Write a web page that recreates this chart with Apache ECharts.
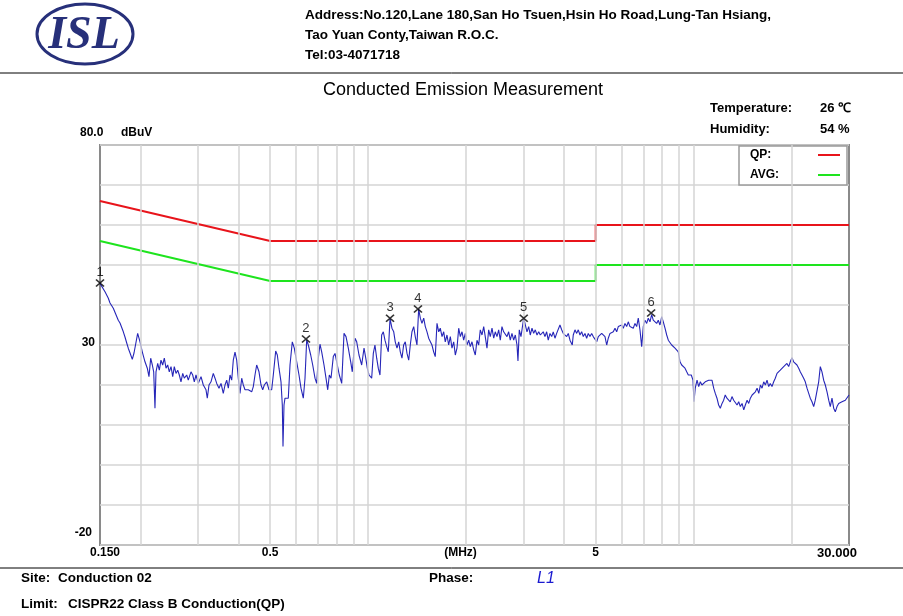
<!DOCTYPE html>
<html><head><meta charset="utf-8">
<script src="https://cdn.jsdelivr.net/npm/echarts@6/dist/echarts.min.js"></script>
<style>html,body{margin:0;padding:0;background:#fff}#c{width:903px;height:616px}</style>
</head><body><div id="c"></div>
<script>
// ---- data (frequency in MHz, level in dBuV) ----
const qpFreq = [0.15, 0.5, 5, 5, 30];
const qpLimit = [66, 56, 56, 60, 60];
const avgFreq = [0.15, 0.5, 5, 5, 30];
const avgLimit = [56, 46, 46, 50, 50];

const markerLabels = ['1', '2', '3', '4', '5', '6'];
const markerFreq = [0.15, 0.644, 1.167, 1.422, 3.005, 7.40];
const markerLevel = [45.5, 31.5, 36.7, 39.0, 36.7, 38.0];

const xGridFreq = [0.2, 0.3, 0.4, 0.5, 0.6, 0.7, 0.8, 0.9, 1, 2, 3, 4, 5, 6, 7, 8, 9, 10, 20];
const xTickValues = [0.15, 0.5, 5, 30];
const xTickLabels = ['0.150', '0.5', '5', '30.000'];
const xUnitLabel = '(MHz)';
const yTickValues = [80, 30, -20];
const yTickLabels = ['80.0', '30', '-20'];
const yUnitLabel = 'dBuV';

const l1Trace = [
[0.150,45.4],[0.1518,45.0],[0.1554,43.3],[0.1591,41.7],[0.1610,40.5],[0.1629,40.8],[0.1648,39.2],[0.1668,39.6],
[0.1707,36.2],[0.1728,35.5],[0.1749,35.0],[0.1769,33.3],[0.1790,32.0],[0.1812,30.5],[0.1832,29.2],[0.1855,28.0],
[0.1885,26.4],[0.1908,28.0],[0.1931,27.5],[0.1958,32.9],[0.1991,30.8],[0.2023,28.3],[0.2062,25.8],[0.2096,24.2],
[0.2121,22.1],[0.2147,26.7],[0.2172,25.0],[0.2193,23.3],[0.2213,14.2],[0.2229,23.3],[0.2256,25.4],[0.2282,23.7],
[0.2309,26.2],[0.2337,25.0],[0.2364,26.7],[0.2393,24.2],[0.2421,25.0],[0.2449,23.3],[0.2479,24.6],[0.2509,22.1],
[0.2537,24.6],[0.2568,22.9],[0.2599,23.7],[0.2629,22.5],[0.2660,20.8],[0.2693,22.9],[0.2723,21.7],[0.2770,22.5],
[0.2801,21.2],[0.2855,23.3],[0.2890,22.5],[0.2923,20.8],[0.2958,22.5],[0.3007,20.4],[0.3065,22.1],[0.3115,20.0],
[0.3175,18.8],[0.3204,16.7],[0.3243,20.0],[0.3289,20.8],[0.3343,22.9],[0.3384,21.7],[0.3425,20.4],[0.3481,19.2],
[0.3531,20.4],[0.3588,17.9],[0.3632,20.0],[0.3676,21.2],[0.3718,19.2],[0.3763,22.5],[0.3808,21.2],[0.3851,26.2],
[0.3898,28.2],[0.3945,26.2],[0.3990,21.7],[0.4038,17.9],[0.4087,21.7],[0.4134,20.0],[0.4184,18.8],
[0.4282,18.8],[0.4387,18.3],[0.4437,19.6],[0.4490,22.5],[0.4544,25.0],[0.4619,23.3],[0.4685,20.0],[0.4742,18.8],
[0.4796,20.0],[0.4878,20.8],[0.4958,18.8],[0.5053,18.8],[0.5111,22.5],[0.5198,28.5],[0.5258,27.5],[0.5321,24.2],
[0.5397,20.8],[0.5447,15.0],[0.5474,4.6],[0.5513,15.0],[0.5552,16.7],[0.5619,17.1],[0.5683,16.7],[0.5752,25.0],
[0.5846,30.8],[0.5929,29.2],[0.6031,25.8],[0.6130,22.5],[0.6217,19.2],[0.6319,16.7],[0.6396,21.7],[0.6473,31.3],
[0.6547,30.0],[0.6659,27.5],[0.6754,25.0],[0.6864,21.7],[0.6947,20.4],[0.7027,26.7],[0.7111,30.2],[0.7197,28.3],
[0.7316,25.0],[0.7420,21.7],[0.7510,18.8],[0.7596,22.5],[0.7687,21.7],[0.7813,27.1],[0.7908,27.9],[0.8037,25.0],
[0.8152,22.5],[0.8292,20.4],[0.8428,32.9],[0.8548,32.1],[0.8688,29.2],[0.8837,25.8],[0.8937,23.3],[0.911,31.7],
[0.922,30.8],[0.937,27.5],[0.955,25.0],[0.971,29.2],[0.983,26.7],[0.994,24.2],[1.006,22.5],[1.025,21.7],
[1.037,27.9],[1.049,30.0],[1.062,26.7],[1.074,24.2],[1.087,22.5],[1.100,32.5],[1.113,33.3],[1.126,31.2],
[1.140,29.6],[1.153,28.3],[1.167,36.6],
[1.183,34.2],[1.198,33.3],[1.211,30.8],[1.226,29.2],[1.241,30.8],[1.255,28.3],[1.270,26.7],[1.285,30.0],
[1.300,30.8],[1.316,27.9],[1.332,26.2],[1.347,30.0],[1.363,33.3],[1.380,34.6],[1.395,32.1],[1.412,30.0],
[1.429,39.0],[1.446,36.7],[1.463,35.4],[1.481,36.7],[1.498,34.6],[1.516,33.3],[1.534,31.7],[1.552,32.1],
[1.570,30.0],[1.589,28.3],[1.607,27.1],[1.627,35.4],[1.647,33.3],[1.665,34.2],[1.686,32.1],[1.706,33.3],
[1.725,30.8],[1.746,32.5],[1.767,30.0],[1.788,32.1],[1.809,29.2],[1.831,30.8],[1.852,27.5],[1.874,29.2],
[1.897,34.2],[1.919,32.1],[1.942,33.3],[1.965,31.2],[1.988,32.9],[2.011,30.0],[2.036,31.2],[2.059,29.6],
[2.084,30.8],[2.109,28.8],[2.133,27.5],[2.159,31.2],[2.185,30.0],[2.210,33.8],[2.237,32.5],[2.264,34.6],
[2.289,32.1],[2.317,29.2],[2.345,33.8],[2.372,32.1],[2.401,34.2],[2.430,31.7],[2.457,33.3],[2.487,32.1],
[2.517,33.8],[2.546,31.2],[2.576,34.6],[2.607,33.3],[2.637,33.8],[2.669,32.1],[2.701,33.3],[2.732,31.2],
[2.765,32.9],[2.799,31.2],[2.831,32.5],[2.865,30.0],[2.885,26.0],[2.912,33.8],[2.947,32.1],[2.983,35.0],
[3.005,36.7],[3.038,36.2],[3.075,33.3],[3.112,34.6],[3.147,32.5],[3.186,34.2],[3.224,32.9],[3.261,33.8],
[3.301,32.5],[3.341,33.3],[3.379,32.5],
[3.412,32.5],[3.450,33.3],[3.492,32.1],[3.534,33.3],[3.574,31.2],[3.618,32.9],[3.662,32.1],[3.703,33.3],
[3.748,31.7],[3.793,32.9],[3.836,33.3],[3.883,35.0],[3.930,33.8],[3.974,32.9],[4.023,33.3],[4.071,32.1],
[4.118,32.9],[4.168,31.2],[4.236,30.0],[4.266,32.5],[4.318,33.8],[4.370,32.9],[4.420,33.8],[4.473,32.5],
[4.527,33.3],[4.579,32.1],[4.634,32.9],[4.690,31.7],[4.744,32.9],[4.801,32.1],[4.859,32.9],[4.914,32.1],
[4.974,32.5],[5.035,30.8],[5.093,32.1],[5.155,32.5],[5.216,32.9],[5.275,33.3],[5.339,32.1],[5.404,30.0],
[5.465,31.7],[5.532,32.9],[5.598,32.5],[5.662,33.3],[5.731,34.2],[5.800,33.3],[5.866,34.6],[5.937,34.2],
[6.009,35.0],[6.077,34.2],[6.150,35.4],[6.224,34.6],[6.295,35.8],[6.371,34.6],[6.448,35.0],[6.522,34.2],
[6.601,35.4],[6.681,34.6],[6.757,36.7],[6.838,33.8],[6.921,29.6],[7.000,34.6],[7.085,36.2],[7.170,35.4],
[7.252,36.7],[7.340,35.8],[7.428,37.6],[7.513,36.2],[7.604,36.7],[7.695,35.4],[7.783,36.2],[7.878,35.0],
[7.975,37.1],[8.065,35.8],[8.163,34.2],[8.262,32.5],[8.356,31.2],[8.457,30.8],[8.559,30.0],[8.656,30.4],
[8.761,29.2],[8.868,29.6],[8.968,28.3],[9.077,25.8],[9.186,25.0],[9.291,25.4],[9.403,24.2],[9.518,23.3],
[9.626,22.5],[9.742,22.1],
[9.83,22.5],[9.95,21.2],[10.02,15.8],[10.11,19.2],[10.24,21.2],[10.36,19.6],[10.48,20.8],[10.60,20.0],
[10.73,20.4],[10.85,20.8],[10.99,20.4],[11.12,21.2],[11.25,20.8],[11.38,21.2],[11.52,19.2],[11.65,17.9],
[11.79,16.7],[11.93,15.0],[12.07,14.2],[12.22,15.4],[12.36,16.2],[12.50,17.5],[12.65,16.7],[12.80,17.1],
[12.95,15.8],[13.11,17.1],[13.27,16.2],[13.42,15.8],[13.59,15.0],[13.75,15.8],[13.91,14.6],[14.08,15.4],
[14.25,13.8],[14.41,15.0],[14.59,16.2],[14.76,15.4],[14.93,16.7],[15.12,17.5],[15.30,17.1],[15.47,18.3],
[15.66,19.2],[15.85,17.9],[16.03,20.0],[16.22,19.2],[16.41,20.8],[16.60,20.0],[16.80,21.2],[17.00,19.6],
[17.19,20.4],[17.40,19.6],[17.61,20.8],[17.81,21.7],[18.03,22.9],[18.24,22.5],[18.45,23.7],[18.67,23.3],
[18.90,24.6],[19.11,24.2],[19.34,25.4],[19.58,24.6],[19.80,25.8],[20.04,26.8],[20.28,25.8],[20.52,26.2],
[20.76,25.0],[21.02,24.2],[21.25,23.3],[21.51,22.5],[21.77,21.7],[22.02,20.8],[22.29,19.2],[22.56,17.9],
[22.81,16.7],[23.09,15.8],[23.37,14.6],[23.63,16.2],[23.92,16.7],[24.21,20.8],[24.49,24.6],[24.78,23.3],
[25.08,21.2],[25.37,20.0],[25.68,18.3],[25.99,16.2],[26.28,14.6],[26.60,16.7],[26.92,14.2],[27.23,13.3],
[27.56,14.6],[27.89,15.4],[28.21,15.0],[28.55,15.8],[28.90,15.4],[29.23,16.2],[29.58,16.7],[30.00,17.5]
];

// ---- header / footer texts ----
const addressLines = [
  'Address:No.120,Lane 180,San Ho Tsuen,Hsin Ho Road,Lung-Tan Hsiang,',
  'Tao Yuan Conty,Taiwan R.O.C.',
  'Tel:03-4071718'
];
const titleText = 'Conducted Emission Measurement';
const envLabels = ['Temperature:', 'Humidity:'];
const envValues = ['26 \u2103', '54 %'];

// ---- chart ----
const FONT = '"Liberation Sans", Arial, sans-serif';
const NAVY = '#27307a';
const chart = echarts.init(document.getElementById('c'), null, {renderer: 'canvas'});

function txt(x, y, text, o) {
  o = o || {};
  return {type: 'text', z: 10, style: {
    x: x, y: y, text: text,
    fontFamily: o.family || FONT, fontSize: o.size || 12,
    fontWeight: o.weight || 'bold', fontStyle: o.style || 'normal',
    fill: o.color || '#000', align: o.align || 'left', verticalAlign: 'middle'
  }};
}

const graphics = [
  {type: 'ellipse', z: 10, shape: {cx: 85, cy: 34, rx: 48, ry: 30}, style: {fill: 'none', stroke: NAVY, lineWidth: 3}},
  txt(84, 36, 'ISL', {family: '"Liberation Serif", "DejaVu Serif", serif', size: 46, weight: 'bold', style: 'italic', color: NAVY, align: 'center'}),
  txt(305, 15, addressLines[0], {size: 13.5}),
  txt(305, 35, addressLines[1], {size: 13.5}),
  txt(305, 55, addressLines[2], {size: 13.5}),
  {type: 'line', z: 10, shape: {x1: 0, y1: 73, x2: 903, y2: 73}, style: {stroke: '#000', lineWidth: 1}},
  txt(463, 90, titleText, {size: 18, weight: 'normal', align: 'center'}),
  txt(710, 108, envLabels[0], {size: 13}), txt(820, 108, envValues[0], {size: 13}),
  txt(710, 129, envLabels[1], {size: 13}), txt(820, 129, envValues[1], {size: 13}),
  {type: 'line', z: 10, shape: {x1: 0, y1: 568, x2: 903, y2: 568}, style: {stroke: '#000', lineWidth: 1}},
  txt(21, 578, 'Site:', {size: 13.5}), txt(58, 578, 'Conduction 02', {size: 13.5}),
  txt(429, 578, 'Phase:', {size: 13.5}),
  txt(537, 579, 'L1', {size: 16, weight: 'normal', style: 'italic', color: '#1a1ad0'}),
  txt(21, 604, 'Limit:', {size: 13.5}), txt(68, 604, 'CISPR22 Class B Conduction(QP)', {size: 13.5})
];

const option = {
  backgroundColor: '#fff',
  animation: false,
  grid: {left: 100, right: 54, top: 145, bottom: 71, show: true, borderColor: '#8a8a8a', borderWidth: 2,
         backgroundColor: 'transparent', containLabel: false},
  xAxis: {type: 'log', logBase: 10, min: 0.15, max: 30,
          axisLine: {show: false}, axisTick: {show: false}, axisLabel: {show: false},
          splitLine: {show: false}, minorTick: {show: false}, minorSplitLine: {show: false}},
  yAxis: {type: 'value', min: -20, max: 80, interval: 10,
          axisLine: {show: false}, axisTick: {show: false}, axisLabel: {show: false},
          splitLine: {show: true, lineStyle: {color: '#d4d4d4', width: 1.5}}},
  legend: {
    data: ['QP', 'AVG'], orient: 'vertical', left: 739, top: 146, align: 'right',
    backgroundColor: '#fff', borderColor: '#9a9a9a', borderWidth: 1.5, borderRadius: 0,
    padding: [3, 7, 4, 11], itemGap: 8, itemWidth: 22, itemHeight: 2, icon: 'rect',
    selectedMode: false,
    formatter: function (n) { return '{n|' + n + ':}'; },
    textStyle: {rich: {n: {width: 63, align: 'left', fontSize: 12, fontWeight: 'bold', fontFamily: FONT, color: '#000', lineHeight: 12}}}
  },
  series: [
    {type: 'line', name: 'grid', data: [], silent: true, z: 1,
     markLine: {silent: true, symbol: ['none', 'none'], label: {show: false}, animation: false,
                lineStyle: {color: '#d4d4d4', width: 1.5, type: 'solid'},
                data: xGridFreq.map(function (v) { return {xAxis: v}; })}},
    {type: 'line', name: 'QP', data: qpFreq.map(function (f, i) { return [f, qpLimit[i]]; }),
     showSymbol: false, symbol: 'none', lineStyle: {color: '#e8141b', width: 2}, itemStyle: {color: '#e8141b'}, z: 3},
    {type: 'line', name: 'AVG', data: avgFreq.map(function (f, i) { return [f, avgLimit[i]]; }),
     showSymbol: false, symbol: 'none', lineStyle: {color: '#1ee41e', width: 2}, itemStyle: {color: '#1ee41e'}, z: 3},
    {type: 'line', name: 'L1', data: l1Trace, showSymbol: false, symbol: 'none',
     lineStyle: {color: '#2626b8', width: 1.1}, itemStyle: {color: '#2626b8'}, z: 4},
    {type: 'scatter', name: 'Peaks', clip: false, z: 5,
     data: markerFreq.map(function (f, i) { return [f, markerLevel[i]]; }),
     symbol: 'path://M0,0L10,10M10,0L0,10', symbolSize: [8, 7],
     itemStyle: {color: 'rgba(0,0,0,0)', borderColor: '#000', borderWidth: 1.6},
     label: {show: true, position: 'top', distance: 0, color: '#000', fontSize: 13, fontFamily: FONT,
             formatter: function (p) { return markerLabels[p.dataIndex]; }}}
  ],
  graphic: graphics
};
chart.setOption(option);

// axis tick labels placed through the chart's own coordinate conversion
const axisTexts = [];
xTickValues.forEach(function (v, i) {
  const p = chart.convertToPixel({gridIndex: 0}, [v, -20]);
  let x = p[0];
  if (i === 0) x += 5;
  if (i === xTickValues.length - 1) x -= 12;
  axisTexts.push(txt(x, p[1] + 8, xTickLabels[i], {align: 'center', size: i === xTickValues.length - 1 ? 13 : 12}));
});
const pMid = chart.convertToPixel({gridIndex: 0}, [0.15, -20]);
const pEnd = chart.convertToPixel({gridIndex: 0}, [30, -20]);
axisTexts.push(txt((pMid[0] + pEnd[0]) / 2 - 14, pMid[1] + 8, xUnitLabel, {align: 'center'}));
yTickValues.forEach(function (v, i) {
  const p = chart.convertToPixel({gridIndex: 0}, [0.15, v]);
  if (i === 0) {
    axisTexts.push(txt(p[0] - 20, p[1] - 12, yTickLabels[i], {align: 'left'}));
    axisTexts.push(txt(p[0] + 21, p[1] - 12, yUnitLabel, {align: 'left'}));
  } else if (i === yTickValues.length - 1) {
    axisTexts.push(txt(p[0] - 8, p[1] - 12, yTickLabels[i], {align: 'right'}));
  } else {
    axisTexts.push(txt(p[0] - 5, p[1] - 2, yTickLabels[i], {align: 'right'}));
  }
});
chart.setOption({graphic: graphics.concat(axisTexts)});
</script>
</body></html>
